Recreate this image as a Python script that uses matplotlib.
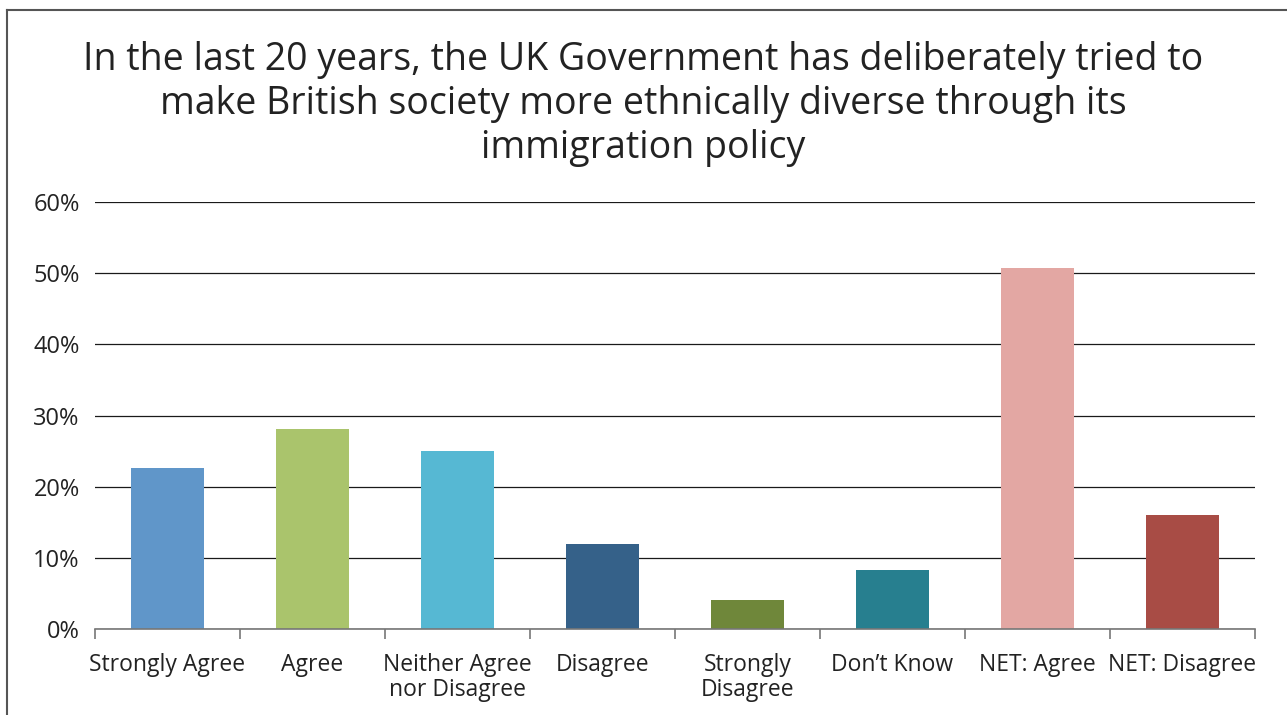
import matplotlib.pyplot as plt
import numpy as np
from matplotlib.lines import Line2D

# survey answers, share of respondents (%)
categories = ["Strongly Agree", "Agree", "Neither Agree\nnor Disagree", "Disagree",
              "Strongly\nDisagree", "Don\u2019t Know", "NET: Agree", "NET: Disagree"]
values = [22.6, 28.1, 25.0, 11.9, 4.1, 8.3, 50.7, 16.0]
colors = ["#6096C9", "#AAC46C", "#56B8D3", "#356189",
          "#6F873A", "#277F8F", "#E3A7A3", "#A84C45"]
yticks = [0, 10, 20, 30, 40, 50, 60]

plt.rcParams['font.family'] = ['Open Sans', 'DejaVu Sans']

fig = plt.figure(figsize=(12.87, 7.15), dpi=100)
ax = fig.add_axes([95 / 1287, 1 - 629 / 715, 1160 / 1287, 427 / 715])

x = np.arange(len(categories))
ax.bar(x, values, width=0.5, color=colors, zorder=3)

ax.set_xlim(-0.5, len(categories) - 0.5)
ax.set_ylim(0, 60)
ax.set_yticks(yticks)
ax.set_yticklabels([f"{t}%" for t in yticks], fontsize=17, color="#222222")
ax.yaxis.grid(True, color="#1a1a1a", linewidth=0.9, zorder=0)
ax.tick_params(axis='y', length=0, pad=11)

ax.set_xticks(x)
ax.set_xticklabels(categories, fontsize=16.5, color="#222222", linespacing=1.08)
ax.tick_params(axis='x', which='major', length=0, pad=17)
ax.set_xticks(np.arange(len(categories) + 1) - 0.5, minor=True)
ax.tick_params(axis='x', which='minor', length=7, color="#777777", width=1.2, direction='out')

for s in ['top', 'right', 'left']:
    ax.spines[s].set_visible(False)
ax.spines['bottom'].set_color("#777777")
ax.spines['bottom'].set_linewidth(1.2)
ax.spines['bottom'].set_zorder(4)

fig.text(0.5, 1 - 104 / 715,
         "In the last 20 years, the UK Government has deliberately tried to\n"
         "make British society more ethnically diverse through its\n"
         "immigration policy",
         ha='center', va='center', fontsize=27, color="#222222", linespacing=1.2)

# frame lines (left and top only visible in the crop)
fig.add_artist(Line2D([7 / 1287, 7 / 1287], [0, 1 - 10 / 715], transform=fig.transFigure,
                      color="#555555", linewidth=1.5))
fig.add_artist(Line2D([7 / 1287, 1], [1 - 10 / 715, 1 - 10 / 715], transform=fig.transFigure,
                      color="#555555", linewidth=1.5))

fig.savefig("out.png", dpi=100)
